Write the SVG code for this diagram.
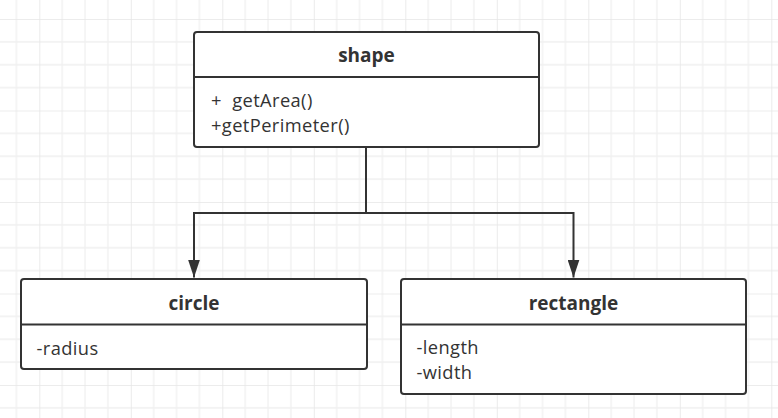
<svg xmlns="http://www.w3.org/2000/svg" width="778" height="418" viewBox="0 0 778 418">
  <style>
    .box { fill: #ffffff; stroke: #333333; stroke-width: 2; }
    .div { stroke: #333333; stroke-width: 2; fill: none; }
    .title { font-family: "Open Sans", "Noto Sans", "Liberation Sans", sans-serif; font-size: 19px; font-weight: bold; fill: #333333; text-anchor: middle; }
    .member { font-family: "Open Sans", "Noto Sans", "Liberation Sans", sans-serif; font-size: 18.3px; letter-spacing: 0.4px; fill: #333333; }
    .edge { fill: none; stroke: #333333; stroke-width: 2; }
  </style>
  <defs>
    <pattern id="grid" x="39.3" y="19" width="91.5" height="91.5" patternUnits="userSpaceOnUse">
      <path d="M22.875 0V91.5M45.75 0V91.5M68.625 0V91.5M0 22.875H91.5M0 45.75H91.5M0 68.625H91.5" stroke="#f0f0f0" stroke-width="1.3" fill="none"/>
      <path d="M0 0V91.5M0 0H91.5" stroke="#e6e6e6" stroke-width="1.6" fill="none"/>
    </pattern>
    <marker id="arrow" viewBox="0 0 18 12" refX="18" refY="6" markerWidth="18" markerHeight="12" markerUnits="userSpaceOnUse" orient="auto">
      <path d="M0 0L18 6L0 12Z" fill="#333333"/>
    </marker>
  </defs>
  <rect x="0" y="0" width="778" height="418" fill="#ffffff"/>
  <rect x="0" y="0" width="778" height="418" fill="url(#grid)"/>

  <g id="connectors">
    <path class="edge" d="M366 147V213H194V277.5" marker-end="url(#arrow)"/>
    <path class="edge" d="M366 213H573.5V277.5" marker-end="url(#arrow)"/>
  </g>

  <g id="shape">
    <rect class="box" x="194" y="32" width="345" height="115" rx="3"/>
    <line class="div" x1="194" y1="77" x2="539" y2="77"/>
    <text class="title" x="366.5" y="61.5">shape</text>
    <text class="member" x="211" y="106.5" xml:space="preserve">+  getArea()</text>
    <text class="member" x="211" y="131.5">+getPerimeter()</text>
  </g>

  <g id="circle">
    <rect class="box" x="21" y="279" width="346" height="90" rx="3"/>
    <line class="div" x1="21" y1="324.5" x2="367" y2="324.5"/>
    <text class="title" x="194" y="310">circle</text>
    <text class="member" x="36.5" y="354.5">-radius</text>
  </g>

  <g id="rectangle">
    <rect class="box" x="401" y="279" width="345" height="115" rx="3"/>
    <line class="div" x1="401" y1="324.5" x2="746" y2="324.5"/>
    <text class="title" x="573.5" y="310">rectangle</text>
    <text class="member" x="416.5" y="354">-length</text>
    <text class="member" x="416.5" y="379">-width</text>
  </g>
</svg>
